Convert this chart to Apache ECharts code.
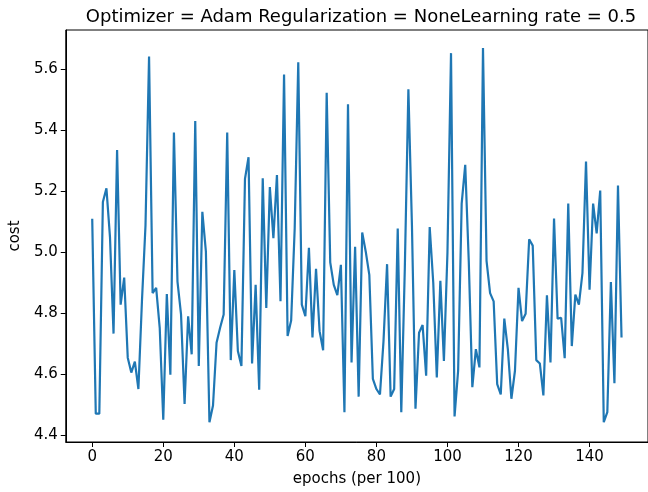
<!DOCTYPE html>
<html>
<head>
<meta charset="utf-8">
<script src="https://cdn.jsdelivr.net/npm/echarts@6/dist/echarts.min.js"></script>
<style>
  html, body { margin: 0; padding: 0; background: #fff; }
  #chart { width: 648px; height: 492px; }
</style>
</head>
<body>
<div id="chart"></div>
<script>
// cost per epoch (x = index, per 100 epochs)
const cost = [
  5.11, 4.47, 4.47, 5.165, 5.21, 5.05, 4.733, 5.336, 4.828, 4.917,
  4.654, 4.605, 4.641, 4.551, 4.84, 5.089, 5.643, 4.866, 4.883, 4.752,
  4.45, 4.863, 4.598, 5.393, 4.904, 4.796, 4.502, 4.79, 4.665, 5.431,
  4.627, 5.133, 5.002, 4.442, 4.497, 4.703, 4.752, 4.796, 5.393, 4.646,
  4.942, 4.676, 4.627, 5.241, 5.312, 4.635, 4.893, 4.549, 5.243, 4.817,
  5.214, 5.046, 5.254, 4.839, 5.584, 4.725, 4.776, 5.08, 5.624, 4.828,
  4.79, 5.015, 4.72, 4.946, 4.741, 4.678, 5.524, 4.967, 4.893, 4.859,
  4.959, 4.475, 5.486, 4.638, 5.018, 4.526, 5.065, 5.002, 4.926, 4.584,
  4.551, 4.533, 4.709, 4.961, 4.526, 4.551, 5.078, 4.475, 4.95, 5.535,
  5.089, 4.486, 4.736, 4.761, 4.595, 5.083, 4.9, 4.589, 4.906, 4.643,
  5.0, 5.654, 4.461, 4.611, 5.16, 5.287, 4.97, 4.557, 4.682, 4.622,
  5.671, 4.972, 4.866, 4.839, 4.567, 4.533, 4.782, 4.681, 4.519, 4.611,
  4.883, 4.774, 4.798, 5.043, 5.022, 4.646, 4.635, 4.53, 4.859, 4.638,
  5.111, 4.782, 4.785, 4.652, 5.16, 4.692, 4.861, 4.828, 4.932, 5.298,
  4.877, 5.16, 5.062, 5.203, 4.442, 4.475, 4.902, 4.57, 5.219, 4.72
];
const xTicks = [0, 20, 40, 60, 80, 100, 120, 140];
const yTicks = [4.4, 4.6, 4.8, 5.0, 5.2, 5.4, 5.6];

const titleText = 'Optimizer = Adam Regularization = NoneLearning rate = 0.5';
const font = 'DejaVu Sans';

const myChart = echarts.init(document.getElementById('chart'), null, { renderer: 'canvas' });
const option = {
  animation: false,
  backgroundColor: '#fff',
  title: {
    text: titleText,
    left: 356,
    textAlign: 'center',
    top: 3,
    textStyle: { fontFamily: font, fontSize: 18, fontWeight: 'normal', color: '#000' }
  },
  grid: {
    left: 64,
    right: -6,
    top: 30,
    bottom: 47,
    show: true,
    borderColor: '#000',
    borderWidth: 1
  },
  xAxis: {
    type: 'value',
    min: -7.45,
    max: 156.45,
    name: 'epochs (per 100)',
    nameLocation: 'middle',
    nameGap: 30,
    nameTextStyle: { fontFamily: font, fontSize: 15, color: '#000' },
    axisLine: { show: true, onZero: false, lineStyle: { color: '#000', width: 1 } },
    axisTick: { show: true, length: 5, lineStyle: { color: '#000' }, customValues: xTicks },
    axisLabel: {
      margin: 8, fontFamily: font, fontSize: 15, color: '#000',
      customValues: xTicks, showMinLabel: true, showMaxLabel: true
    },
    splitLine: { show: false }
  },
  yAxis: {
    type: 'value',
    min: 4.377,
    max: 5.730,
    name: 'cost',
    nameLocation: 'middle',
    nameGap: 42,
    nameTextStyle: { fontFamily: font, fontSize: 15, color: '#000' },
    axisLine: { show: true, onZero: false, lineStyle: { color: '#000', width: 1 } },
    axisTick: { show: true, length: 5, lineStyle: { color: '#000' }, customValues: yTicks },
    axisLabel: {
      margin: 8, fontFamily: font, fontSize: 15, color: '#000',
      customValues: yTicks,
      formatter: function (v) { return v.toFixed(1); }
    },
    splitLine: { show: false }
  },
  series: [
    {
      type: 'line',
      data: cost.map(function (v, i) { return [i, v]; }),
      showSymbol: false,
      symbol: 'none',
      lineStyle: { color: '#1f77b4', width: 2.2 },
      z: 3
    }
  ]
};
myChart.setOption(option);
window.addEventListener('resize', function () {
  myChart.resize();
});
</script>
</body>
</html>
